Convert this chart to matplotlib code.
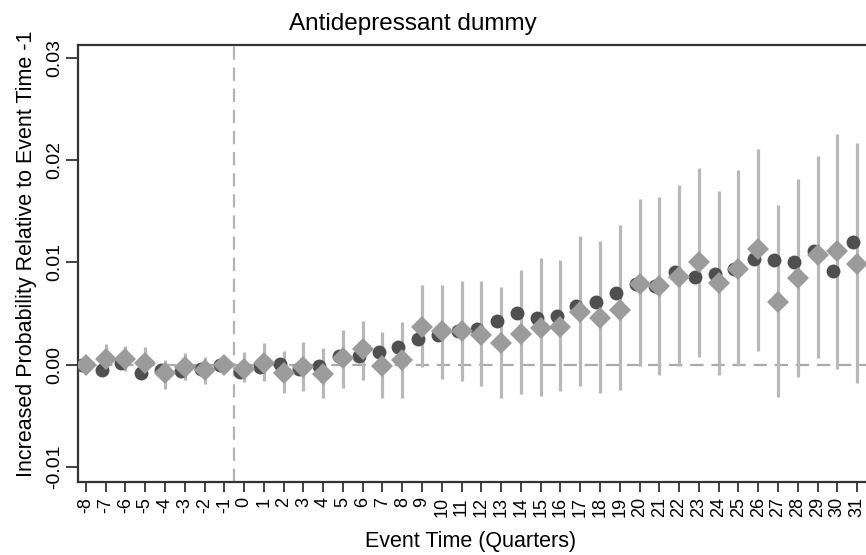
import numpy as np
import matplotlib
matplotlib.use("Agg")
import matplotlib.pyplot as plt

plt.rcParams["font.family"] = ["Liberation Sans", "DejaVu Sans"]

# Event time (quarters)
event_time = list(range(-8, 32))

# Dark circles
est_circle = [0.0000, -0.0005, 0.0002, -0.0008, -0.0005, -0.0006, -0.0004, 0.0000,
              -0.0007, -0.0002, 0.0001, -0.0004, -0.0001, 0.0009, 0.0009, 0.0012,
              0.0017, 0.0025, 0.0029, 0.0033, 0.0035, 0.0043, 0.0051, 0.0046,
              0.0048, 0.0057, 0.0061, 0.0070, 0.0079, 0.0077, 0.0091, 0.0086,
              0.0089, 0.0094, 0.0103, 0.0102, 0.0100, 0.0111, 0.0092, 0.0120]

# Grey diamonds with confidence intervals
est_diamond = [0.0000, 0.0006, 0.0006, 0.0002, -0.0008, -0.0002, -0.0005, 0.0000,
               -0.0004, 0.0002, -0.0008, -0.0002, -0.0009, 0.0007, 0.0015, -0.0001,
               0.0005, 0.0037, 0.0033, 0.0033, 0.0029, 0.0021, 0.0030, 0.0036,
               0.0037, 0.0052, 0.0046, 0.0054, 0.0079, 0.0077, 0.0086, 0.0100,
               0.0080, 0.0094, 0.0113, 0.0061, 0.0085, 0.0107, 0.0111, 0.0099]
ci_low = [-0.0006, -0.0008, -0.0006, -0.0013, -0.0024, -0.0015, -0.0019, 0.0000,
          -0.0017, -0.0016, -0.0028, -0.0026, -0.0033, -0.0023, -0.0015, -0.0033,
          -0.0033, -0.0002, -0.0014, -0.0016, -0.0021, -0.0033, -0.0029, -0.0031,
          -0.0026, -0.0021, -0.0028, -0.0025, -0.0001, -0.0010, -0.0001, 0.0008,
          -0.0010, 0.0000, 0.0013, -0.0032, -0.0012, 0.0007, -0.0004, -0.0018]
ci_high = [0.0006, 0.0020, 0.0018, 0.0017, 0.0005, 0.0011, 0.0008, 0.0000,
           0.0012, 0.0021, 0.0013, 0.0022, 0.0016, 0.0034, 0.0043, 0.0032,
           0.0042, 0.0078, 0.0078, 0.0082, 0.0082, 0.0076, 0.0093, 0.0104,
           0.0102, 0.0126, 0.0121, 0.0137, 0.0162, 0.0164, 0.0176, 0.0192,
           0.0170, 0.0190, 0.0211, 0.0156, 0.0182, 0.0204, 0.0226, 0.0217]

x = np.array(event_time, dtype=float)

fig = plt.figure(figsize=(8.66, 5.55), dpi=100)
ax = fig.add_axes([0.090, 0.1315, 0.910, 0.7874])

# Reference lines
dash = (0, (6, 3.5))
ax.axhline(0, color="#aaaaaa", lw=1.6, ls=dash, zorder=1)
ax.axvline(-0.5, color="#b4b4b4", lw=1.6, ls=dash, zorder=1)

# Confidence intervals
ax.vlines(x, ci_low, ci_high, color="#b8b8b8", lw=2.3, zorder=2)

# Point estimates
ax.plot(x - 0.2, est_circle, "o", color="#4f4f4f", ms=10, mew=0, zorder=3)
ax.plot(x, est_diamond, "D", color="#9b9b9b", ms=11, mew=0, zorder=4)

ax.set_xlim(-8.40, 31.45)
ax.set_ylim(-0.01147, 0.03127)

ax.set_xticks(event_time)
ax.set_xticklabels([str(t) for t in event_time], rotation=90, fontsize=13)
ax.set_yticks([-0.01, 0.0, 0.01, 0.02, 0.03])
ax.set_yticklabels(["-0.01", "0.00", "0.01", "0.02", "0.03"], rotation=90,
                   fontsize=14, va="center")
ax.tick_params(axis="y", length=9, width=1.3, color="#333333", pad=1.5)
ax.tick_params(axis="x", length=7, width=1.3, color="#333333", pad=4)

for side in ["left", "bottom", "top"]:
    ax.spines[side].set_color("#333333")
    ax.spines[side].set_linewidth(1.6)
ax.spines["right"].set_visible(False)

fig.text(413 / 866, 1 - 24 / 555, "Antidepressant dummy", fontsize=17.5,
         ha="center", va="center")
fig.text(471 / 866, 1 - 542 / 555, "Event Time (Quarters)", fontsize=15.5,
         ha="center", va="center")
fig.text(27 / 866, 1 - 254 / 555, "Increased Probability Relative to Event Time -1",
         fontsize=15.5, rotation=90, ha="center", va="center")

fig.savefig("out.png", dpi=100)
